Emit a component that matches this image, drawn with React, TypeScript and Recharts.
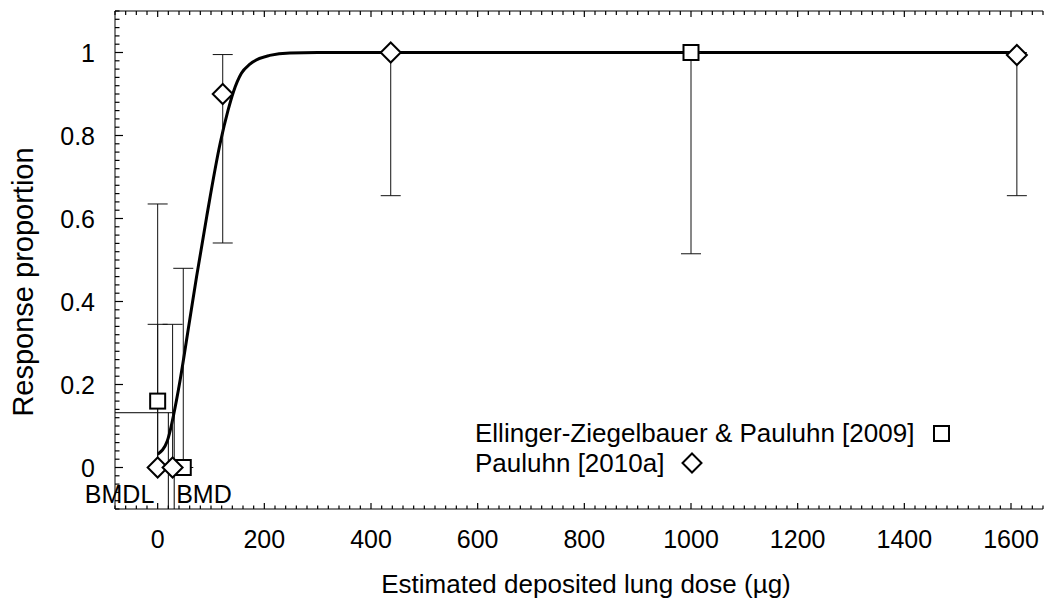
import React from "react";
import { ComposedChart, Line, Scatter, ErrorBar, XAxis, YAxis, ReferenceLine } from "recharts";

// fitted dose-response curve
const curveDose = [0, 18, 40, 60, 73, 92, 117, 132, 142, 157, 173, 210, 248, 300, 1611];
const curveResp = [0.032, 0.064, 0.195, 0.355, 0.46, 0.605, 0.78, 0.861, 0.905, 0.95, 0.972, 0.993, 0.999, 1.0, 1.0];

// Ellinger-Ziegelbauer & Pauluhn [2009]
const squareDose = [0, 48, 1000];
const squareResp = [0.16, 0, 1.0];
const squareLow = [0, 0, 0.515];
const squareHigh = [0.635, 0.48, 1.0];

// Pauluhn [2010a]
const diamondDose = [0, 28, 122, 437, 1611];
const diamondResp = [0, 0, 0.9, 1.0, 0.994];
const diamondLow = [0, 0, 0.541, 0.655, 0.655];
const diamondHigh = [0.345, 0.345, 0.995, 1.0, 1.0];

const seriesNames = ["Ellinger-Ziegelbauer & Pauluhn [2009]", "Pauluhn [2010a]"];

// benchmark dose lines
const BMR = 0.132;
const BMDL = 20;
const BMD = 31;

const xDomain = [-80, 1660];
const yDomain = [-0.1, 1.1];
const xMinorTicks: number[] = [];
for (let i = -4; i <= 83; i++) xMinorTicks.push(i * 20);
const yMinorTicks: number[] = [];
for (let i = -5; i <= 55; i++) yMinorTicks.push(i / 50);

const curve = curveDose.map((d, i) => ({ dose: d, resp: curveResp[i] }));
const squares = squareDose.map((d, i) => ({
  dose: d,
  resp: squareResp[i],
  err: [squareResp[i] - squareLow[i], squareHigh[i] - squareResp[i]],
}));
const diamonds = diamondDose.map((d, i) => ({
  dose: d,
  resp: diamondResp[i],
  err: [diamondResp[i] - diamondLow[i], diamondHigh[i] - diamondResp[i]],
}));

const W = 1047;
const H = 599;
const TOP = 11;
const BOTTOM_AXIS = 90;
const PLOT_H = H - TOP - BOTTOM_AXIS;
const FONT = "'Liberation Sans', Arial, sans-serif";

const SquareShape = (p: any) => (
  <rect x={p.cx - 7.5} y={p.cy - 7.5} width={15} height={15} fill="#fff" stroke="#000" strokeWidth={2} />
);
const DiamondShape = (p: any) => (
  <path
    d={`M${p.cx},${p.cy - 10}L${p.cx + 10},${p.cy}L${p.cx},${p.cy + 10}L${p.cx - 10},${p.cy}Z`}
    fill="#fff"
    stroke="#000"
    strokeWidth={2}
  />
);

// bottom ticks point up; the same positions are reused for the top frame ticks
const BottomTick = (p: any) => {
  const v = p.payload.value;
  const major = v % 200 === 0;
  const top = p.y - PLOT_H;
  return (
    <g>
      <path d={`M${p.x},${p.y}V${p.y - (major ? 6 : 3.5)}`} stroke="#000" strokeWidth={1.2} fill="none" />
      <path d={`M${p.x},${top}V${top + (major ? 6 : 4)}`} stroke="#000" strokeWidth={1.2} fill="none" />
      {major && (
        <text x={p.x} y={p.y + 39} textAnchor="middle" fontSize={25} fontFamily={FONT} fill="#000">
          {v}
        </text>
      )}
    </g>
  );
};

const LeftTick = (p: any) => {
  const v = p.payload.value;
  const major = Math.abs(v * 5 - Math.round(v * 5)) < 1e-6;
  return (
    <g>
      <path d={`M${p.x},${p.y}H${p.x + (major ? 8 : 4.5)}`} stroke="#000" strokeWidth={1.2} fill="none" />
      {major && (
        <text x={p.x - 20} y={p.y + 9} textAnchor="end" fontSize={25} fontFamily={FONT} fill="#000">
          {String(v)}
        </text>
      )}
    </g>
  );
};

const lineBox = (vb: any) => {
  if (vb && vb.x1 !== undefined) {
    return { x: Math.min(vb.x1, vb.x2), y: Math.min(vb.y1, vb.y2), height: Math.abs(vb.y2 - vb.y1) };
  }
  return { x: vb.x, y: vb.y, height: vb.height };
};

const BmdLabel = (text: string, side: "left" | "right") => (props: any) => {
  const b = lineBox(props.viewBox);
  return (
    <text
      x={side === "left" ? b.x - 14 : b.x + 2}
      y={b.y + b.height - 6}
      textAnchor={side === "left" ? "end" : "start"}
      fontSize={25}
      fontFamily={FONT}
      fill="#000"
    >
      {text}
    </text>
  );
};

export default function App() {
  return (
    <div style={{ position: "absolute", left: 0, top: 0, width: W, height: H, background: "#fff" }}>
      <ComposedChart width={W} height={H} margin={{ top: TOP, right: 4, bottom: 0, left: 0 }}>
        <XAxis
          xAxisId="main"
          type="number"
          dataKey="dose"
          domain={xDomain}
          ticks={xMinorTicks}
          interval={0}
          height={BOTTOM_AXIS}
          tickSize={0}
          tickMargin={0}
          tick={<BottomTick />}
          tickLine={false}
          axisLine={{ stroke: "#000" }}
          label={{
            content: (props: any) => {
              const vb = props.viewBox;
              return (
                <text
                  x={vb.x + vb.width / 2 + 7}
                  y={vb.y + 84}
                  textAnchor="middle"
                  fontSize={26}
                  fontFamily={FONT}
                  fill="#000"
                >
                  Estimated deposited lung dose (µg)
                </text>
              );
            },
          }}
        />
        <YAxis
          yAxisId="main"
          type="number"
          dataKey="resp"
          domain={yDomain}
          ticks={yMinorTicks}
          interval={0}
          width={115}
          tickSize={0}
          tickMargin={0}
          tick={<LeftTick />}
          tickLine={false}
          axisLine={{ stroke: "#000" }}
          label={{
            content: (props: any) => {
              const vb = props.viewBox;
              const cy = vb.y + vb.height / 2 + 22;
              return (
                <text
                  x={33}
                  y={cy}
                  transform={`rotate(-90, 33, ${cy})`}
                  textAnchor="middle"
                  fontSize={29}
                  fontFamily={FONT}
                  fill="#000"
                >
                  Response proportion
                </text>
              );
            },
          }}
        />
        {/* top frame line */}
        <ReferenceLine xAxisId="main" yAxisId="main" y={yDomain[1]} stroke="#000" strokeWidth={1} />
        <ReferenceLine
          xAxisId="main"
          yAxisId="main"
          segment={[{ x: xDomain[0], y: BMR }, { x: BMD, y: BMR }]}
          stroke="#000"
          strokeWidth={1}
        />
        <ReferenceLine
          xAxisId="main"
          yAxisId="main"
          segment={[{ x: BMDL, y: yDomain[0] }, { x: BMDL, y: BMR }]}
          stroke="#000"
          strokeWidth={1}
          label={{ content: BmdLabel("BMDL", "left") }}
        />
        <ReferenceLine
          xAxisId="main"
          yAxisId="main"
          segment={[{ x: BMD, y: yDomain[0] }, { x: BMD, y: BMR }]}
          stroke="#000"
          strokeWidth={1}
          label={{ content: BmdLabel("BMD", "right") }}
        />
        <Line
          xAxisId="main"
          yAxisId="main"
          data={curve}
          dataKey="resp"
          type="monotone"
          stroke="#000"
          strokeWidth={3}
          dot={false}
          activeDot={false}
          isAnimationActive={false}
        />
        <Scatter
          xAxisId="main"
          yAxisId="main"
          name={seriesNames[0]}
          data={squares}
          dataKey="resp"
          shape={SquareShape}
          isAnimationActive={false}
        >
          <ErrorBar dataKey="err" direction="y" width={10} stroke="#111" strokeWidth={1} isAnimationActive={false} />
        </Scatter>
        <Scatter
          xAxisId="main"
          yAxisId="main"
          name={seriesNames[1]}
          data={diamonds}
          dataKey="resp"
          shape={DiamondShape}
          isAnimationActive={false}
        >
          <ErrorBar dataKey="err" direction="y" width={10} stroke="#111" strokeWidth={1} isAnimationActive={false} />
        </Scatter>
      </ComposedChart>
      <div
        style={{
          position: "absolute",
          left: 475,
          top: 418,
          fontFamily: FONT,
          fontSize: 26,
          lineHeight: "30px",
          color: "#000",
        }}
      >
        <div style={{ display: "flex", alignItems: "center", whiteSpace: "nowrap" }}>
          <span>{seriesNames[0]}</span>
          <svg width={17} height={17} style={{ marginLeft: 19 }}>
            <rect x={1} y={1} width={15} height={15} fill="#fff" stroke="#000" strokeWidth={2} />
          </svg>
        </div>
        <div style={{ display: "flex", alignItems: "center", whiteSpace: "nowrap" }}>
          <span>{seriesNames[1]}</span>
          <svg width={22} height={22} style={{ marginLeft: 17 }}>
            <path d="M11,1.5L20.5,11L11,20.5L1.5,11Z" fill="#fff" stroke="#000" strokeWidth={2} />
          </svg>
        </div>
      </div>
    </div>
  );
}
